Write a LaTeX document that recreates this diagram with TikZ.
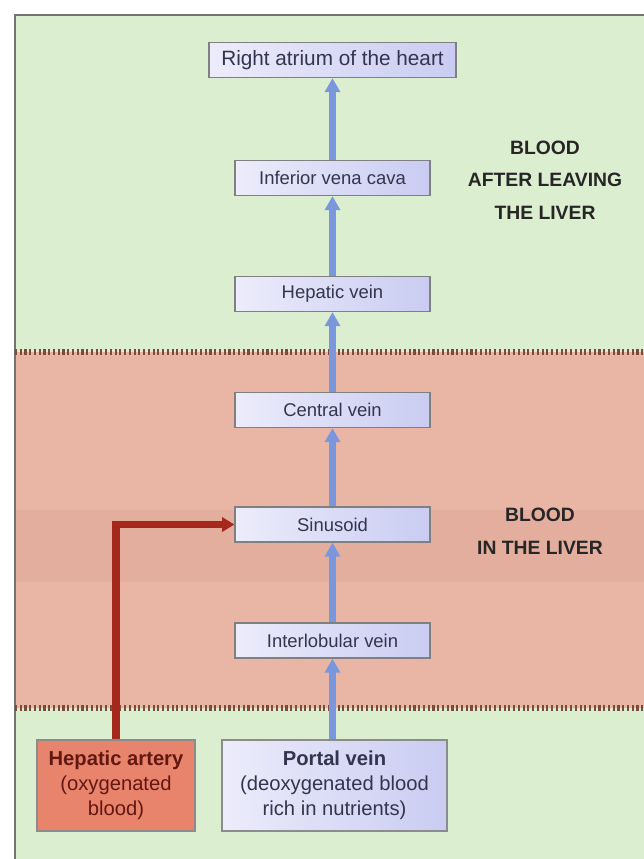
\documentclass[tikz,border=0pt]{standalone}
\usepackage{fontspec}
\setmainfont{Liberation Sans}
\usetikzlibrary{arrows.meta,positioning,calc}

\definecolor{zoneGreen}{HTML}{DCEED0}
\definecolor{zonePink}{HTML}{E9B6A6}
\definecolor{zonePinkDark}{HTML}{E4AE9E}
\definecolor{dotBrown}{HTML}{7A4A3A}
\definecolor{veinBlue}{HTML}{7A97DE}
\definecolor{arteryRed}{HTML}{A4281C}
\definecolor{boxLeft}{HTML}{ECECFB}
\definecolor{boxRight}{HTML}{C9CCF1}
\definecolor{arteryFill}{HTML}{E8836C}
\definecolor{inkNavy}{HTML}{34344E}

\begin{document}
\begin{tikzpicture}[x=0.02cm,y=-0.02cm,
    vessel/.style={draw=black!50,line width=0.7pt,left color=boxLeft,right color=boxRight,
      minimum width=3.9cm,minimum height=0.7cm,inner sep=0pt,text=inkNavy,font=\fontsize{10.5}{12}\selectfont},
    source/.style={draw=black!45,line width=0.7pt,minimum height=1.82cm,inner sep=0pt,align=center,
      font=\fontsize{11.5}{14.3}\selectfont},
    flow/.style={veinBlue,line width=4pt,-{Triangle[width=8.5pt,length=8pt]}},
    zonelabel/.style={font=\bfseries\fontsize{11}{18.5}\selectfont,align=center,text=black!85},
    liverline/.style={dotBrown,line width=3pt,dash pattern=on 1.2pt off 1.5pt}]
  \useasboundingbox (0,0) rectangle (644,859);
  \fill[white] (0,0) rectangle (644,859);

  % 背景：肝臓を出た後（緑）、肝臓内（ピンク）、流入側（緑）
  \fill[zoneGreen] (15,15) rectangle (644,859);
  \fill[zonePink] (15,352) rectangle (644,708);
  \fill[zonePinkDark] (15,510) rectangle (644,582);
  \draw[black!55,line width=0.8pt] (15,859) -- (15,15) -- (644,15); % 外枠（上と左のみ見える）
  \draw[liverline] (15,352) -- (644,352); % 肝臓の上側の境界
  \draw[liverline] (15,708) -- (644,708); % 肝臓の下側の境界

  % 静脈の経路（下から上へ）
  \node[vessel,minimum width=4.94cm,font=\fontsize{11.8}{14}\selectfont] (atrium) at (332.5,60) {Right atrium of the heart};
  \node[vessel] (cava) at (332.5,178) {Inferior vena cava};
  \node[vessel] (hepvein) at (332.5,294) {Hepatic vein};
  \node[vessel] (central) at (332.5,410) {Central vein};
  \node[vessel] (sinusoid) at (332.5,524.5) {Sinusoid};
  \node[vessel] (interlob) at (332.5,640.5) {Interlobular vein};

  % 流入する2本の血管
  \node[source,fill=arteryFill,minimum width=3.16cm,text=arteryRed!60!black] (artery) at (116,785.5)
    {\textbf{Hepatic artery}\\(oxygenated\\blood)};
  \node[source,left color=boxLeft,right color=boxRight,minimum width=4.5cm,text=inkNavy] (portal) at (334.5,785.5)
    {\textbf{Portal vein}\\(deoxygenated blood\\rich in nutrients)};

  % 青い矢印：門脈から右心房まで
  \draw[flow] (interlob |- portal.north) -- (interlob);
  \draw[flow] (interlob) -- (sinusoid);
  \draw[flow] (sinusoid) -- (central);
  \draw[flow] (central) -- (hepvein);
  \draw[flow] (hepvein) -- (cava);
  \draw[flow] (cava) -- (atrium);

  % 赤い矢印：肝動脈は類洞へ合流する
  \draw[arteryRed,line width=4.5pt,-{Triangle[width=8pt,length=7pt]}]
    (artery.north) |- (sinusoid.west);

  \node[zonelabel] (after) at (545,180) {BLOOD\\AFTER LEAVING\\THE LIVER};
  \node[zonelabel] (inside) at (540,531) {BLOOD\\IN THE LIVER};
\end{tikzpicture}
\end{document}
